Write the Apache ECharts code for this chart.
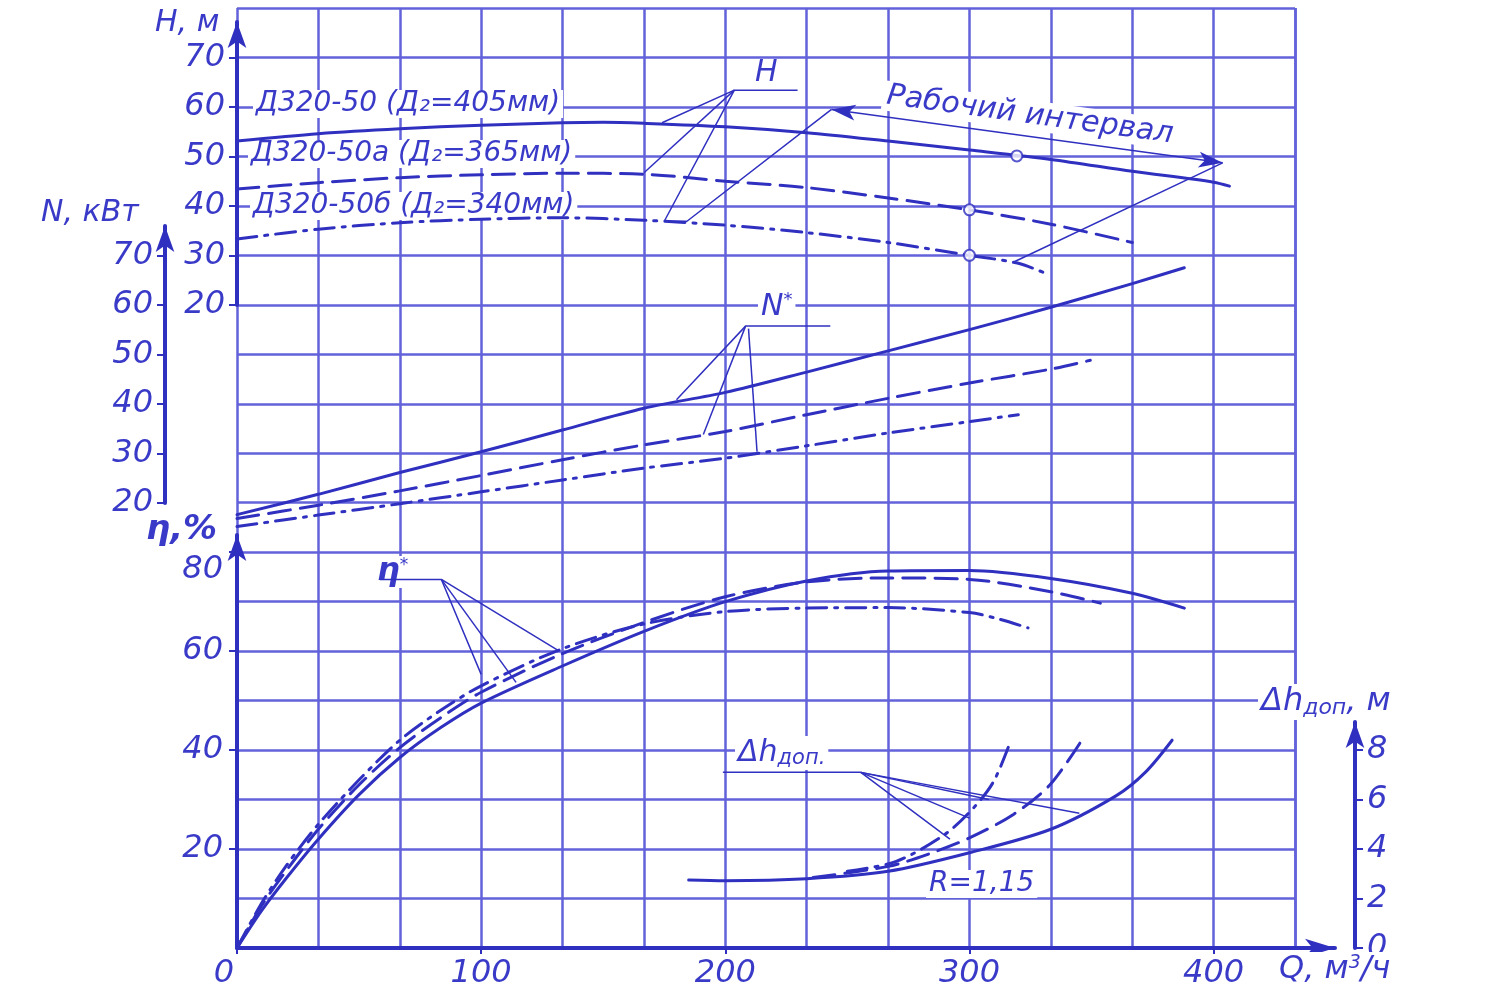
<!DOCTYPE html>
<html><head><meta charset="utf-8">
<script src="https://cdn.jsdelivr.net/npm/echarts@6/dist/echarts.min.js"></script>
<style>html,body{margin:0;padding:0;background:#fff}#c{width:1500px;height:1000px}</style>
</head><body><div id="c"></div>
<script>
// ---- tick labels ----
const Q_TICKS = [0, 100, 200, 300, 400];
const H_TICKS = [20, 30, 40, 50, 60, 70];
const N_TICKS = [20, 30, 40, 50, 60, 70];
const ETA_TICKS = [20, 40, 60, 80];
const DH_TICKS = [0, 2, 4, 6, 8];

// ---- head H (m) : [Q, H] ----
const H_405 = [[0,53.1],[33.3,54.6],[66.7,55.6],[100,56.3],[133.3,56.8],[150,56.9],[166.7,56.7],[200,56.0],[233.3,54.8],[266.7,53.1],[300,51.3],[333.3,49.4],[366.7,47.0],[400,44.8],[406.5,44.0]];
const H_365 = [[0,43.4],[33.3,44.7],[66.7,45.7],[100,46.3],[133.3,46.6],[166.7,46.4],[200,45.0],[233.3,43.7],[266.7,41.6],[300,39.2],[333.3,36.3],[366.7,32.6]];
const H_340 = [[0,33.3],[33.3,35.3],[66.7,36.6],[100,37.3],[133.3,37.6],[166.7,37.1],[200,36.1],[233.3,34.6],[266.7,32.6],[300,30.0],[320,28.4],[332,26.2]];
// working points
const H_POINTS = [[319.4,50.1],[300,39.2],[300,30.0]];

// ---- power N (kW) ----
const N_405 = [[0,17.6],[33.3,21.7],[66.7,26.1],[100,30.3],[133.3,34.7],[166.7,39.1],[200,42.3],[233.3,46.4],[266.7,50.7],[300,55.0],[333.3,59.5],[366.7,64.3],[388,67.5]];
const N_365 = [[0,16.8],[33.3,19.5],[66.7,22.4],[100,25.5],[133.3,28.7],[166.7,31.7],[200,34.4],[233.3,37.8],[266.7,41.1],[300,44.2],[333.3,47.0],[349.5,48.8]];
const N_340 = [[0,15.2],[33.3,17.5],[66.7,19.8],[100,22.2],[133.3,24.6],[166.7,27.0],[200,29.0],[233.3,31.5],[266.7,34.1],[300,36.4],[320,37.8]];

// ---- efficiency eta (%) ----
const ETA_405 = [[0,0],[10,7.5],[20,14],[33.3,22],[50,31],[66.7,38.5],[83.3,44.5],[100,49.5],[133.3,57],[166.7,64],[200,70],[233.3,74.2],[266.7,76.2],[300,76.3],[333.3,74.7],[366.7,71.7],[388,68.7]];
const ETA_365 = [[0,0],[10,8.5],[20,15.5],[33.3,24],[50,33],[66.7,40.5],[83.3,46.5],[100,51.7],[133.3,59.5],[166.7,65.8],[200,71],[233.3,74],[266.7,74.8],[300,74.5],[333.3,72],[353.6,69.7]];
const ETA_340 = [[0,0],[10,9],[20,16.5],[33.3,25],[50,34],[66.7,42],[83.3,48],[100,53],[133.3,60.5],[166.7,65.5],[200,68],[233.3,68.7],[266.7,68.8],[300,67.8],[312,66.5],[324,64.7]];

// ---- NPSH dh (m) ----
const DH_405 = [[185,2.75],[200,2.72],[233.3,2.8],[266.7,3.1],[300,3.85],[333.3,4.8],[360,6.15],[372,7.1],[383,8.4]];
const DH_365 = [[236,2.85],[266.7,3.3],[283.3,3.8],[300,4.45],[318,5.4],[333,6.6],[346,8.4]];
const DH_340 = [[250,3.1],[270,3.5],[290,4.6],[302,5.7],[310,6.75],[317,8.4]];

// ---- annotation leader lines (data coords) ----
const LEAD_H = [
  [[229.6,63.4],[203.7,63.4],[174.1,56.8]],
  [[203.7,63.4],[166.7,46.7]],
  [[203.7,63.4],[175,36.9],[184.3,36.9],[243.5,59.5]],
  [[403.7,48.7],[317.5,28.5]]
];
const LEAD_N = [
  [[243,55.7],[208.3,55.7],[180,40.8]],
  [[208.3,55.7],[191,33.8]],
  [[209.5,55.2],[213,30.3]]
];
const LEAD_ETA = [
  [[58.5,74.5],[83.7,74.5],[100,55.3]],
  [[83.7,74.5],[114.3,53.7]],
  [[83.7,74.5],[132,60]]
];
const LEAD_DH = [
  [[199,7.1],[255.5,7.1],[292,4.4]],
  [[255.5,7.1],[300,5.25]],
  [[255.5,7.1],[308,6.0]],
  [[255.5,7.1],[345,5.45]]
];
const WORK_ARROW = [[243.5,59.5],[403.7,48.7]];

const LINE = '#3030c0';
const GRIDC = '#6262da';
const TXT = '#3a3ac8';
const FONT = 'DejaVu Sans';
const DASH = [22, 10];
const DASHDOT = [20, 8, 3, 8];

const lbl = (extra) => Object.assign({color: TXT, fontFamily: FONT, fontStyle: 'italic', fontSize: 32}, extra || {});
const tickStyle = {color: LINE, width: 2};

function curve(data, yIdx, type) {
  return {type: 'line', xAxisIndex: 0, yAxisIndex: yIdx, data: data, smooth: 0.3, symbol: 'none',
    lineStyle: {color: LINE, width: 3, type: type, cap: 'round'}, z: 3, silent: true};
}
function leader(pts, yIdx) {
  return {type: 'line', xAxisIndex: 0, yAxisIndex: yIdx, data: pts, smooth: false, symbol: 'none',
    lineStyle: {color: LINE, width: 1.5}, z: 3, silent: true};
}

const arrowAxisY = (gi, extra) => Object.assign({gridIndex: gi, type: 'value', min: 0, max: 1, position: 'left',
  axisLine: {show: true, onZero: false, symbol: ['none', 'arrow'], symbolSize: [14, 26], lineStyle: {color: LINE, width: 4}},
  axisTick: {show: false}, axisLabel: {show: false}, splitLine: {show: false}}, extra || {});
const hiddenX = (gi) => ({gridIndex: gi, type: 'value', min: 0, max: 1, show: false});

const series = [
  curve(H_405, 0, 'solid'), curve(H_365, 0, DASH), curve(H_340, 0, DASHDOT),
  curve(N_405, 1, 'solid'), curve(N_365, 1, DASH), curve(N_340, 1, DASHDOT),
  curve(ETA_405, 2, 'solid'), curve(ETA_365, 2, DASH), curve(ETA_340, 2, DASHDOT),
  curve(DH_405, 3, 'solid'), curve(DH_365, 3, DASH), curve(DH_340, 3, DASHDOT),
  {type: 'scatter', xAxisIndex: 0, yAxisIndex: 0, data: H_POINTS, symbol: 'circle', symbolSize: 11,
   itemStyle: {color: '#fff', borderColor: LINE, borderWidth: 2}, z: 5, silent: true},
  {type: 'line', xAxisIndex: 0, yAxisIndex: 0, data: [], silent: true,
   markLine: {silent: true, symbol: ['arrow', 'arrow'], symbolSize: [12, 24], animation: false,
     lineStyle: {color: LINE, width: 1.5, type: 'solid'},
     label: {show: true, position: 'insideMiddleTop', formatter: 'Рабочий интервал', distance: 6,
       color: TXT, fontFamily: FONT, fontStyle: 'italic', fontSize: 30, backgroundColor: '#fff', padding: [0, 4]},
     data: [[{coord: WORK_ARROW[0]}, {coord: WORK_ARROW[1]}]]}}
];
LEAD_H.forEach(p => series.push(leader(p, 0)));
LEAD_N.forEach(p => series.push(leader(p, 1)));
LEAD_ETA.forEach(p => series.push(leader(p, 2)));
LEAD_DH.forEach(p => series.push(leader(p, 3)));

function txt(text, x, y, size, extra) {
  return {type: 'text', x: x, y: y, z: 1, silent: true,
    style: Object.assign({text: text, fill: TXT, font: 'italic ' + size + 'px "' + FONT + '"',
      backgroundColor: '#fff', padding: [0, 3], verticalAlign: 'top'}, extra || {})};
}
function richTxt(parts, x, y, size) {
  return {type: 'text', x: x, y: y, z: 1, silent: true,
    style: {text: parts, verticalAlign: 'top', backgroundColor: '#fff', padding: [0, 3],
      rich: {
        a: {fill: TXT, fontFamily: FONT, fontStyle: 'italic', fontSize: size, lineHeight: size + 4},
        s: {fill: TXT, fontFamily: FONT, fontStyle: 'italic', fontSize: Math.round(size * 0.7), lineHeight: size + 4, padding: [Math.round(size * 0.4), 0, 0, 0]},
        u: {fill: TXT, fontFamily: FONT, fontStyle: 'italic', fontSize: Math.round(size * 0.6), lineHeight: size + 4, padding: [0, 0, Math.round(size * 0.45), 0]},
        b: {fill: TXT, fontFamily: FONT, fontStyle: 'italic', fontWeight: 'bold', fontSize: size + 4, lineHeight: size + 4}
      }}};
}

const N_TOP = 20 + (503 - 226) / 4.947; // N value at the arrow tip (grid 3 top)
const DH_TOP = 38 * 226 / 940;          // dh value at the arrow tip (grid 4 top)

const option = {
  animation: false,
  backgroundColor: '#fff',
  grid: [
    {left: 237, top: 8, width: 1058, height: 940, show: false},
    {left: 237, top: 535, width: 20, height: 413, show: false},
    {left: 237, top: 22, width: 20, height: 283, show: false},
    {left: 165, top: 226, width: 20, height: 277, show: false},
    {left: 1355, top: 722, width: 20, height: 226, show: false},
    {left: 237, top: 928, width: 1098, height: 20, show: false}
  ],
  xAxis: [
    {gridIndex: 0, type: 'value', min: 0, max: 1300 / 3, position: 'bottom',
     axisLine: {show: false, onZero: false},
     axisTick: {show: true, customValues: Q_TICKS, length: 6, lineStyle: tickStyle},
     axisLabel: lbl({customValues: Q_TICKS, margin: 10,
       formatter: v => v === 0 ? '{z|0}' : String(v),
       rich: {z: {color: TXT, fontFamily: FONT, fontStyle: 'italic', fontSize: 32, padding: [0, 26, 0, 0]}}}),
     splitLine: {show: false}},
    hiddenX(1), hiddenX(2), hiddenX(3), hiddenX(4),
    {gridIndex: 5, type: 'value', min: 0, max: 1, position: 'bottom',
     axisLine: {show: true, onZero: false, symbol: ['none', 'arrow'], symbolSize: [14, 30], lineStyle: {color: LINE, width: 4}},
     axisTick: {show: false}, axisLabel: {show: false}, splitLine: {show: false}},
    // grid lines (vertical), every 100/3 m3/h
    {gridIndex: 0, type: 'value', min: 0, max: 1300 / 3, interval: 100 / 3, position: 'top',
     axisLine: {show: false, onZero: false}, axisTick: {show: false}, axisLabel: {show: false},
     splitLine: {show: true, lineStyle: {color: GRIDC, width: 2.5}}}
  ],
  yAxis: [
    {gridIndex: 0, type: 'value', min: -110, max: 80, position: 'left',
     axisLine: {show: false, onZero: false},
     axisTick: {show: true, customValues: H_TICKS, length: 8, lineStyle: tickStyle},
     axisLabel: lbl({customValues: H_TICKS, margin: 12}),
     splitLine: {show: false}},
    {gridIndex: 0, type: 'value', min: -70, max: 120, position: 'left', offset: 72,
     axisLine: {show: false, onZero: false},
     axisTick: {show: false},
     axisLabel: lbl({customValues: N_TICKS, margin: 12}),
     splitLine: {show: false}},
    {gridIndex: 0, type: 'value', min: 0, max: 190, position: 'left',
     axisLine: {show: false, onZero: false},
     axisTick: {show: true, customValues: ETA_TICKS, length: 8, lineStyle: tickStyle},
     axisLabel: lbl({customValues: ETA_TICKS, margin: 14,
       formatter: v => v === 80 ? '{d|80}' : String(v),
       rich: {d: {color: TXT, fontFamily: FONT, fontStyle: 'italic', fontSize: 32, padding: [34, 0, 0, 0]}}}),
     splitLine: {show: false}},
    {gridIndex: 0, type: 'value', min: 0, max: 38, position: 'right', offset: 60,
     axisLine: {show: false, onZero: false},
     axisTick: {show: false},
     axisLabel: lbl({customValues: DH_TICKS, margin: 12}),
     splitLine: {show: false}},
    arrowAxisY(1), arrowAxisY(2),
    arrowAxisY(3, {min: 20, max: N_TOP,
      axisTick: {show: true, customValues: N_TICKS, length: 8, lineStyle: tickStyle}}),
    arrowAxisY(4, {min: 0, max: DH_TOP,
      axisTick: {show: true, customValues: DH_TICKS, length: 8, inside: true, lineStyle: tickStyle}}),
    {gridIndex: 5, type: 'value', min: 0, max: 1, show: false},
    // grid lines (horizontal), same scale as H
    {gridIndex: 0, type: 'value', min: -110, max: 80, interval: 10, position: 'right',
     axisLine: {show: false, onZero: false}, axisTick: {show: false}, axisLabel: {show: false},
     splitLine: {show: true, lineStyle: {color: GRIDC, width: 2.5}}}
  ],
  graphic: [
    txt('H, м', 152, 8, 30),
    txt('N, кВт', 38, 198, 30),
    richTxt('{b|η,%}', 143, 513, 30),
    richTxt('{a|Q, м}{u|3}{a|/ч}', 1276, 952, 32),
    richTxt('{a|Δh}{s|доп}{a|, м}', 1258, 684, 32),
    txt('Д320-50 (Д₂=405мм)', 253, 90, 28),
    txt('Д320-50а (Д₂=365мм)', 248, 140, 28),
    txt('Д320-50б (Д₂=340мм)', 250, 192, 28),
    txt('H', 752, 58, 30, {backgroundColor: null}),
    richTxt('{a|N}{u|*}', 758, 290, 30),
    richTxt('{b|η}{u|*}', 374, 556, 28),
    richTxt('{a|Δh}{s|доп.}', 735, 736, 30),
    txt('R=1,15', 926, 870, 28)
  ],
  series: series
};
const chart = echarts.init(document.getElementById('c'));
chart.setOption(option);
</script>
</body></html>
